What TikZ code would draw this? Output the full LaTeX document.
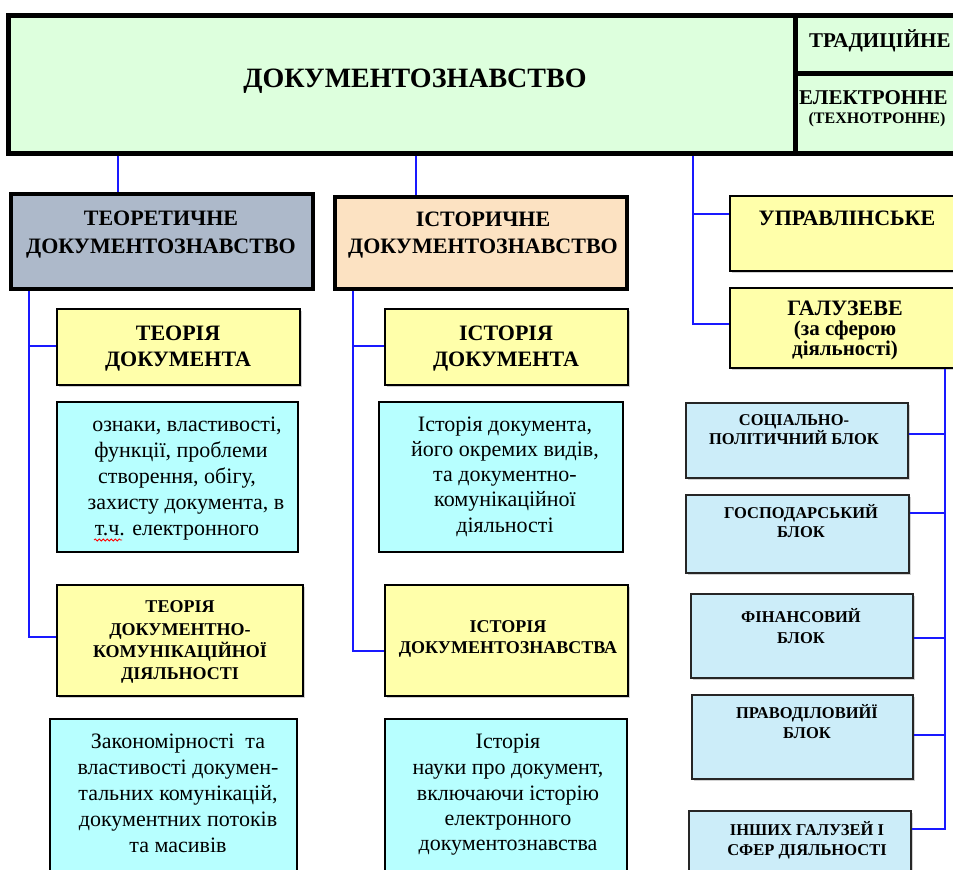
\documentclass[tikz,border=0pt]{standalone}
\usepackage{fontspec}
\setmainfont{Liberation Serif}
\usetikzlibrary{shadows,decorations.pathmorphing}
\definecolor{gmain}{RGB}{221,255,221}
\definecolor{gteor}{RGB}{173,185,202}
\definecolor{gist}{RGB}{252,226,194}
\definecolor{gyel}{RGB}{255,255,170}
\definecolor{gcyan}{RGB}{183,255,255}
\definecolor{gblue}{RGB}{204,237,249}
\definecolor{lineblue}{RGB}{25,25,255}
\begin{document}
\begin{tikzpicture}[x=1pt,y=-1pt,
  conn/.style={draw=lineblue,line width=2.8pt},
  boxbase/.style={rectangle,inner sep=0pt},
  heavybox/.style={boxbase,draw=black,line width=5pt},
  midbox/.style={boxbase,draw=black,line width=3.5pt},
  ybox/.style={boxbase,draw=black,line width=2pt,fill=gyel,drop shadow={shadow xshift=1.5pt,shadow yshift=-1.5pt,opacity=.35}},
  cbox/.style={boxbase,draw=black,line width=2pt,fill=gcyan},
  bbox/.style={boxbase,draw=black!85,line width=2pt,fill=gblue,drop shadow={shadow xshift=1.5pt,shadow yshift=-1.5pt,opacity=.35}},
  tx/.style={inner sep=0pt,anchor=base},
  fA/.style={tx,font=\fontsize{28}{30}\selectfont\bfseries},
  fB/.style={tx,font=\fontsize{22}{24}\selectfont\bfseries},
  fC/.style={tx,font=\fontsize{21}{23}\selectfont\bfseries},
  fG/.style={inner sep=0pt,anchor=base west,font=\fontsize{21}{23}\selectfont\bfseries},
  fD/.style={tx,font=\fontsize{18}{20}\selectfont\bfseries},
  fE/.style={tx,font=\fontsize{16.5}{18}\selectfont\bfseries},
  fF/.style={tx,font=\fontsize{16}{18}\selectfont\bfseries},
  fR/.style={tx,font=\fontsize{22}{24}\selectfont},
]
\useasboundingbox (0,0) rectangle (953,870);
\fill[white] (0,0) rectangle (953,870);
\clip (0,0) rectangle (953,870);

% ---------- boxes ----------
\node[heavybox,fill=gmain,minimum width=787pt,minimum height=138pt] (main) at (401.5,84) {};
\node[heavybox,fill=gmain,minimum width=167pt,minimum height=58pt] (trad) at (878.5,44) {};
\node[heavybox,fill=gmain,minimum width=167pt,minimum height=80pt] (elek) at (878.5,113) {};

\node[midbox,fill=gteor,minimum width=302pt,minimum height=95pt] (teor) at (162,241.5) {};
\node[midbox,fill=gist,minimum width=292pt,minimum height=92pt] (ist) at (481,243) {};

\node[ybox,minimum width=243pt,minimum height=76pt] (teordoc) at (178.5,347) {};
\node[ybox,minimum width=243pt,minimum height=76pt] (istdoc) at (506.5,347) {};
\node[cbox,minimum width=241pt,minimum height=150pt] (cyA) at (177.5,477) {};
\node[cbox,minimum width=244pt,minimum height=150pt] (cyB) at (501,477) {};
\node[ybox,minimum width=246pt,minimum height=111pt] (teordkd) at (180,640.5) {};
\node[ybox,minimum width=243pt,minimum height=111pt] (istdz) at (506.5,640.5) {};
\node[cbox,minimum width=247pt,minimum height=161pt] (cyC) at (173.5,799.5) {};
\node[cbox,minimum width=242pt,minimum height=161pt] (cyD) at (506,799.5) {};

\node[ybox,minimum width=235pt,minimum height=75pt] (upr) at (847.5,233.5) {};
\node[ybox,minimum width=235pt,minimum height=80pt] (gal) at (847.5,328) {};

\node[bbox,minimum width=222pt,minimum height=75pt] (blA) at (797,440.5) {};
\node[bbox,minimum width=223pt,minimum height=78pt] (blB) at (797.5,534) {};
\node[bbox,minimum width=222pt,minimum height=84pt] (blC) at (802,636) {};
\node[bbox,minimum width=221pt,minimum height=84pt] (blD) at (802.5,737) {};
\node[bbox,minimum width=222pt,minimum height=69pt] (blE) at (800,845.5) {};

% ---------- connectors ----------
\draw[conn] (118,0 |- main.south) -- (118,0 |- teor.north);
\draw[conn] (416,0 |- main.south) -- (416,0 |- ist.north);

\coordinate (rA) at (693,214);
\coordinate (rB) at (693,324);
\draw[conn] (693,0 |- main.south) -- (rB) -- (gal.west |- rB);
\draw[conn] (rA) -- (upr.west |- rA);

\coordinate (lA) at (29,346);
\coordinate (lB) at (29,637);
\draw[conn] (29,0 |- teor.south) -- (lB) -- (teordkd.west |- lB);
\draw[conn] (lA) -- (teordoc.west |- lA);

\coordinate (mA) at (353,346);
\coordinate (mB) at (353,651);
\draw[conn] (353,0 |- ist.south) -- (mB) -- (istdz.west |- mB);
\draw[conn] (mA) -- (istdoc.west |- mA);

\coordinate (gA) at (945,434);
\coordinate (gB) at (945,513);
\coordinate (gC) at (945,638);
\coordinate (gD) at (945,735);
\coordinate (gE) at (945,829);
\draw[conn] (945,0 |- gal.south) -- (gE) -- (blE.east |- gE);
\draw[conn] (gA) -- (blA.east |- gA);
\draw[conn] (gB) -- (blB.east |- gB);
\draw[conn] (gC) -- (blC.east |- gC);
\draw[conn] (gD) -- (blD.east |- gD);

% ---------- texts ----------
\node[fA] (mainT) at (415,87) {ДОКУМЕНТОЗНАВСТВО};
\node[fG] (tradT) at (809,47) {ТРАДИЦІЙНЕ};
\node[fG] (elekT) at (799,104) {ЕЛЕКТРОННЕ};
\node[fF] (techT) at (877,123) {(ТЕХНОТРОННЕ)};

\node[fB] (teorTa) at (161,225) {ТЕОРЕТИЧНЕ};
\node[fB] (teorTb) at (161,253) {ДОКУМЕНТОЗНАВСТВО};
\node[fB] (istTa) at (483,226) {ІСТОРИЧНЕ};
\node[fB] (istTb) at (483,253) {ДОКУМЕНТОЗНАВСТВО};

\node[fB] (tdTa) at (178,340) {ТЕОРІЯ};
\node[fB] (tdTb) at (178,366) {ДОКУМЕНТА};
\node[fB] (idTa) at (506,340) {ІСТОРІЯ};
\node[fB] (idTb) at (506,366) {ДОКУМЕНТА};

\node[fR] (cyAa) at (187,431) {ознаки, властивості,};
\node[fR] (cyAb) at (181,457) {функції, проблеми};
\node[fR] (cyAc) at (177,483) {створення, обігу,};
\node[fR] (cyAd) at (186,509) {захисту документа, в};
\node[fR] (cyAe) at (177,535) {т.ч. електронного};
\draw[red,line width=0.8pt,decoration={snake,amplitude=1pt,segment length=4pt},decorate] (94,540) -- (122,540);

\node[fR] (cyBa) at (505,431) {Історія документа,};
\node[fR] (cyBb) at (505,456) {його окремих видів,};
\node[fR] (cyBc) at (505,481) {та документно-};
\node[fR] (cyBd) at (505,506) {комунікаційної};
\node[fR] (cyBe) at (505,532) {діяльності};

\node[fD] (tkTa) at (180,612) {ТЕОРІЯ};
\node[fD] (tkTb) at (180,635) {ДОКУМЕНТНО-};
\node[fD] (tkTc) at (180,657) {КОМУНІКАЦІЙНОЇ};
\node[fD] (tkTd) at (180,679) {ДІЯЛЬНОСТІ};

\node[fD] (izTa) at (508,632) {ІСТОРІЯ};
\node[fD] (izTb) at (508,653) {ДОКУМЕНТОЗНАВСТВА};

\node[fR] (cyCa) at (178,748) {Закономірності\ \ та};
\node[fR] (cyCb) at (178,774) {властивості докумен-};
\node[fR] (cyCc) at (178,800) {тальних комунікацій,};
\node[fR] (cyCd) at (178,826) {документних потоків};
\node[fR] (cyCe) at (178,852) {та масивів};

\node[fR] (cyDa) at (508,748) {Історія};
\node[fR] (cyDb) at (508,774) {науки про документ,};
\node[fR] (cyDc) at (508,800) {включаючи історію};
\node[fR] (cyDd) at (508,825) {електронного};
\node[fR] (cyDe) at (508,850) {документознавства};

\node[fB] (uprT) at (847,225) {УПРАВЛІНСЬКЕ};
\node[fB] (galTa) at (845,315) {ГАЛУЗЕВЕ};
\node[fC] (galTb) at (845,335) {(за сферою};
\node[fC] (galTc) at (845,355) {діяльності)};

\node[fE] (blAa) at (794,425) {СОЦІАЛЬНО-};
\node[fE] (blAb) at (794,444) {ПОЛІТИЧНИЙ БЛОК};
\node[fE] (blBa) at (801,518) {ГОСПОДАРСЬКИЙ};
\node[fE] (blBb) at (801,537) {БЛОК};
\node[fE] (blCa) at (801,622) {ФІНАНСОВИЙ};
\node[fE] (blCb) at (801,643) {БЛОК};
\node[fE] (blDa) at (807,718) {ПРАВОДІЛОВИЙЇ};
\node[fE] (blDb) at (807,738) {БЛОК};
\node[fE] (blEa) at (807,835) {ІНШИХ ГАЛУЗЕЙ І};
\node[fE] (blEb) at (807,855) {СФЕР ДІЯЛЬНОСТІ};
\end{tikzpicture}
\end{document}
